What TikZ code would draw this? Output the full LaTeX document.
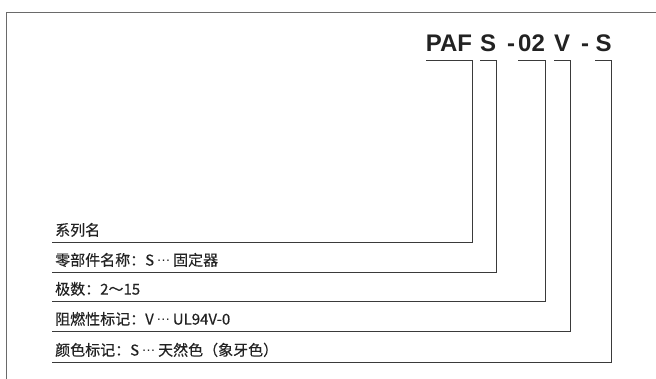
\documentclass[tikz,border=0pt]{standalone}
\usepackage{fontspec}
\usepackage{xcolor}
\usepackage{tikz}
\usetikzlibrary{positioning, calc}
\newfontfamily\cjkfont[FakeBold=0.3]{Noto Sans CJK SC}
\newfontfamily\codefont{Liberation Sans}
\newcommand{\dotsmid}{\,{\codefont\fontsize{14}{14}\selectfont\raisebox{0.3em}{…}}\,}
\definecolor{dark}{HTML}{222222}
\definecolor{linegray}{HTML}{3A3A3A}
\definecolor{framegray}{HTML}{6A6A6A}
\tikzset{
    codepart/.style={
        inner sep=0pt, anchor=base, text=dark,
        font=\codefont\fontsize{24}{24}\selectfont\bfseries
    },
    itemlab/.style={
        anchor=south west, inner xsep=3pt, inner ysep=6.2pt,
        text depth=0pt, text=dark,
        font=\cjkfont\fontsize{15}{15}\selectfont
    },
    bracket/.style={
        draw=linegray, line width=0.9pt
    },
    framebox/.style={
        draw=framegray, line width=0.9pt
    },
}
\begin{document}
\begin{tikzpicture}[x=1pt, y=-1pt]
    \useasboundingbox (0,0) rectangle (656,379);
    \draw[framebox] (6,379) -- (6,12) -- (656,12);

    % model code
    \node[codepart] (series) at (449,52) {PAF};
    \node[codepart] (part) at (488,52) {S};
    \node[codepart] (hyph1) at (511,52) {-};
    \node[codepart] (poles) at (531.5,52) {02};
    \node[codepart] (flame) at (562,52) {V};
    \node[codepart] (hyph2) at (585,52) {-};
    \node[codepart] (colour) at (603.5,52) {S};

    % item labels
    \node[itemlab] (labseries) at (52,242) {系列名};
    \node[itemlab] (labpart) at (52,272) {零部件名称：S\dotsmid 固定器};
    \node[itemlab] (labpoles) at (52,301) {极数：2～15};
    \node[itemlab] (labflame) at (52,331) {阻燃性标记：V\dotsmid UL94V-0};
    \node[itemlab] (labcolour) at (52,362) {颜色标记：S\dotsmid 天然色（象牙色）};

    % brackets
    \draw[bracket] (labseries.south west) -| ([yshift=-8pt]series.south east) -- ([yshift=-8pt]series.south west);
    \draw[bracket] (labpart.south west) -| ([yshift=-8pt]part.south east) -- ([yshift=-8pt]part.south west);
    \draw[bracket] (labpoles.south west) -| ([yshift=-8pt]poles.south east) -- ([yshift=-8pt]poles.south west);
    \draw[bracket] (labflame.south west) -| ([yshift=-8pt]flame.south east) -- ([yshift=-8pt]flame.south west);
    \draw[bracket] (labcolour.south west) -| ([yshift=-8pt]colour.south east) -- ([yshift=-8pt]colour.south west);
\end{tikzpicture}
\end{document}
